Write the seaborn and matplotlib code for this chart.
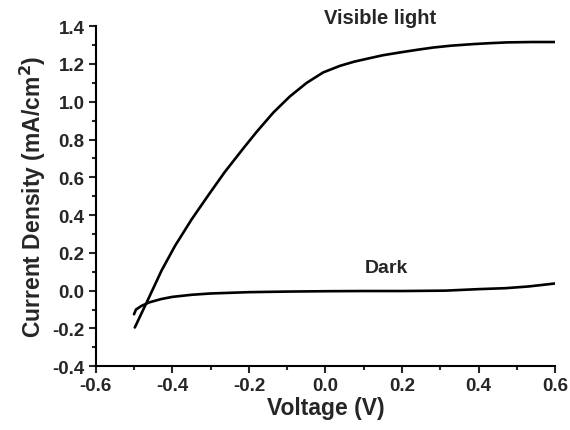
import matplotlib
matplotlib.use('Agg')
import matplotlib.pyplot as plt
import seaborn as sns
import pandas as pd
from matplotlib.ticker import MultipleLocator

# Values
light_v = [-0.498, -0.463, -0.428, -0.393, -0.350, -0.306, -0.263, -0.215, -0.180,
           -0.136, -0.093, -0.049, -0.006, 0.038, 0.075, 0.112, 0.150, 0.195, 0.240,
           0.282, 0.330, 0.386, 0.430, 0.474, 0.54, 0.60]
light_j = [-0.195, -0.045, 0.107, 0.237, 0.376, 0.505, 0.628, 0.752, 0.840,
           0.943, 1.028, 1.100, 1.155, 1.190, 1.212, 1.229, 1.246, 1.261, 1.275,
           1.287, 1.297, 1.305, 1.310, 1.314, 1.316, 1.316]
dark_v = [-0.50, -0.495, -0.48, -0.46, -0.43, -0.40, -0.35, -0.30, -0.20, -0.10, 0.0,
          0.1, 0.2, 0.313, 0.40, 0.47, 0.53, 0.60]
dark_j = [-0.125, -0.10, -0.08, -0.062, -0.045, -0.033, -0.022, -0.015, -0.008, -0.005,
          -0.003, -0.002, -0.002, 0.0, 0.008, 0.013, 0.022, 0.038]

df = pd.concat([
    pd.DataFrame({'V': light_v, 'J': light_j, 'cond': 'Visible light'}),
    pd.DataFrame({'V': dark_v, 'J': dark_j, 'cond': 'Dark'}),
])

sns.set_style('ticks')
plt.rcParams['font.family'] = ['Liberation Sans', 'DejaVu Sans']
plt.rcParams['font.weight'] = 'bold'

fig = plt.figure(figsize=(5.7, 4.31), dpi=100)
ax = fig.add_axes([0.168, 0.148, 0.806, 0.789])
sns.lineplot(data=df, x='V', y='J', units='cond', estimator=None, sort=False,
             color='black', linewidth=1.9, ax=ax, legend=False)

ax.set_xlim(-0.6, 0.6)
ax.set_ylim(-0.4, 1.4)
ax.xaxis.set_major_locator(MultipleLocator(0.2))
ax.xaxis.set_minor_locator(MultipleLocator(0.1))
ax.yaxis.set_major_locator(MultipleLocator(0.2))
ax.yaxis.set_minor_locator(MultipleLocator(0.1))
ax.xaxis.set_major_formatter(plt.FuncFormatter(lambda v, p: f'{v:.1f}'))
ax.yaxis.set_major_formatter(plt.FuncFormatter(lambda v, p: f'{v:.1f}'))
ax.tick_params(which='major', direction='out', length=5, width=1.5, labelsize=13.5, pad=3)
ax.tick_params(which='minor', direction='out', length=3, width=1.5)
for lab in ax.get_xticklabels() + ax.get_yticklabels():
    lab.set_fontweight('bold')

for s in ['top', 'right']:
    ax.spines[s].set_visible(False)
for s in ['left', 'bottom']:
    ax.spines[s].set_linewidth(1.5)
    ax.spines[s].set_color('black')

ax.set_xlabel('Voltage (V)', fontsize=16.5, fontweight='bold', labelpad=1)
ax.set_ylabel('Current Density (mA/cm$^\\mathbf{2}$)', fontsize=16.5, fontweight='bold', labelpad=3)

ax.text(0.142, 1.447, 'Visible light', fontsize=14.5, fontweight='bold',
        ha='center', va='center', clip_on=False)
ax.text(0.16, 0.122, 'Dark', fontsize=14, fontweight='bold', ha='center', va='center')

fig.savefig('out.png', dpi=100)
